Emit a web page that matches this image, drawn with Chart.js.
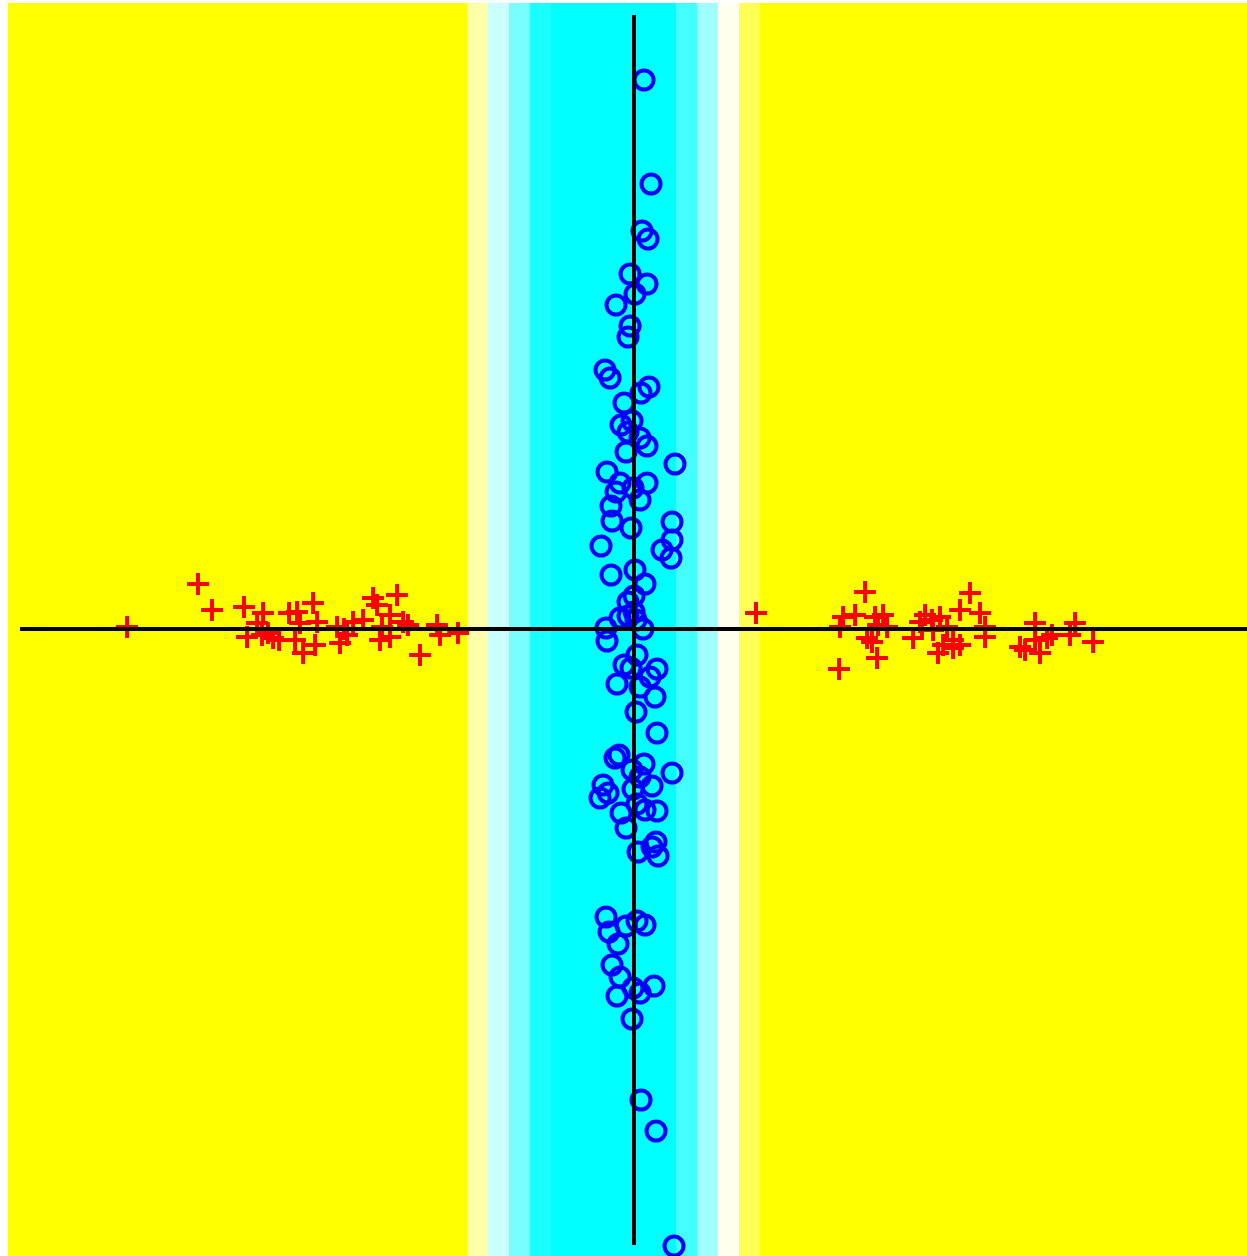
<!DOCTYPE html>
<html>
<head>
<meta charset="utf-8">
<script src="https://cdn.jsdelivr.net/npm/chart.js@4/dist/chart.umd.min.js"></script>
<style>
  html, body { margin: 0; padding: 0; background: #ffffff; overflow: hidden; }
  #wrap { width: 1279px; height: 1293px; position: absolute; left: -12px; top: -17px; }
</style>
</head>
<body>
<div id="wrap"><canvas id="myChart"></canvas></div>
<script>
// axis limits
const xLimits = [-6.26, 6.13];
const yLimits = [-6.27, 6.26];

// vertical colour bands of the background (x edges, colours)
const bandEdges = [-1.67, -1.46, -1.25, -1.04, -0.83, 0.42, 0.63, 0.84, 1.05, 1.26];
const bandColors = ['#ffffaa', '#ccffff', '#77ffff', '#1affff', '#00ffff', '#44ffff', '#a0ffff', '#ffffee', '#ffff55'];
const baseColor = '#ffff00';

// blue circles (class 1)
const circleX = [0.10, 0.17, 0.08, 0.14, -0.04, 0.13, 0.01, -0.18, -0.04, -0.06,
  -0.29, -0.24, 0.15, 0.07, -0.10, -0.02, -0.13, -0.06, 0.06, 0.13,
  -0.08, 0.41, -0.27, -0.14, 0.13, -0.18, -0.01, 0.06, -0.23, -0.22,
  -0.03, 0.38, 0.38, -0.33, 0.28, 0.37, -0.23, 0.01, 0.11, 0.00,
  -0.06, 0.00, -0.14, -0.06, 0.02, 0.09, -0.28, -0.27, 0.03, -0.10,
  -0.03, 0.23, 0.16, 0.06, -0.17, 0.21, 0.02, 0.23, -0.19, -0.15,
  0.10, 0.38, -0.02, 0.06, -0.31, 0.18, -0.26, -0.34, -0.01, 0.11,
  0.23, -0.13, 0.03, -0.08, 0.22, 0.18, 0.24, 0.04, -0.28, 0.03,
  0.11, -0.08, -0.25, -0.16, -0.22, -0.14, -0.01, 0.20, 0.06, -0.17,
  -0.02, 0.07, 0.22, 0.40];
const circleY = [5.49, 4.45, 3.98, 3.90, 3.55, 3.45, 3.35, 3.24, 3.03, 2.92,
  2.59, 2.51, 2.42, 2.36, 2.26, 2.08, 2.04, 1.97, 1.91, 1.83,
  1.77, 1.65, 1.57, 1.46, 1.46, 1.37, 1.41, 1.29, 1.23, 1.08,
  1.01, 1.07, 0.89, 0.83, 0.79, 0.71, 0.54, 0.59, 0.45, 0.33,
  0.27, 0.17, 0.11, 0.13, 0.09, 0.00, 0.01, -0.12, -0.26, -0.36,
  -0.39, -0.40, -0.48, -0.58, -0.55, -0.68, -0.83, -1.04, -1.29, -1.26,
  -1.35, -1.44, -1.41, -1.48, -1.56, -1.57, -1.64, -1.69, -1.60, -1.81,
  -1.82, -1.84, -1.75, -1.99, -2.13, -2.18, -2.27, -2.23, -2.88, -2.92,
  -2.96, -2.97, -3.03, -3.15, -3.36, -3.48, -3.59, -3.57, -3.64, -3.67,
  -3.90, -4.71, -5.02, -6.17];

// red crosses (class 2)
const crossX = [-5.07, -4.36, -4.22, -3.90, -3.87, -3.71, -3.77, -3.66, -3.61, -3.55,
  -3.39, -3.37, -3.34, -3.31, -3.21, -3.17, -3.19, -2.97, -2.94, -2.87,
  -2.81, -2.71, -2.61, -2.57, -2.52, -2.54, -2.44, -2.44, -2.37, -2.31,
  -2.26, -2.14, -1.97, -1.94, -1.76, -3.45, -2.90, -3.72,
  1.22, 2.05, 2.31, 2.09, 2.21, 2.06, 2.33, 2.43, 2.41, 2.49,
  2.44, 2.53, 2.38, 2.91, 2.86, 2.98, 3.06, 2.79, 2.88, 3.04,
  3.09, 3.19, 3.26, 3.26, 3.36, 3.46, 3.51, 3.51, 3.13, 2.99,
  3.86, 3.91, 4.01, 4.01, 4.06, 4.18, 4.36, 4.41, 4.59, 3.19, 4.13];
const crossY = [0.02, 0.45, 0.19, 0.22, -0.08, 0.16, 0.06, -0.04, -0.09, -0.11,
  -0.11, 0.17, 0.06, -0.24, 0.26, 0.07, -0.16, 0.02, -0.14, -0.06,
  0.07, 0.09, 0.31, 0.24, 0.02, -0.11, 0.14, -0.08, 0.34, 0.07,
  0.04, -0.26, 0.04, -0.06, -0.04, 0.16, 0.00, -0.06,
  0.16, -0.40, 0.37, 0.12, 0.14, 0.02, -0.09, -0.29, 0.12, 0.14,
  0.04, 0.02, -0.13, 0.14, 0.07, 0.09, 0.12, -0.09, 0.00, -0.24,
  -0.16, -0.11, -0.16, 0.19, 0.36, 0.16, 0.02, -0.08, 0.02, -0.01,
  -0.18, -0.21, 0.06, -0.11, -0.24, -0.06, -0.06, 0.06, -0.13, -0.19, -0.09];

// axis lines through the origin
const hLineX = [-6.14, 6.13];
const vLineY = [6.14, -6.16];

const toPoints = (xs, ys) => xs.map((x, i) => ({ x: x, y: ys[i] }));

// draws the yellow/cyan background through the chart's scales
const bandPlugin = {
    id: 'bands',
    beforeDatasetsDraw(chart) {
        const { ctx, chartArea, scales } = chart;
        ctx.save();
        ctx.fillStyle = baseColor;
        ctx.fillRect(chartArea.left, chartArea.top, chartArea.width, chartArea.height);
        for (let i = 0; i < bandColors.length; i++) {
            const x0 = Math.round(scales.x.getPixelForValue(bandEdges[i]));
            const x1 = Math.round(scales.x.getPixelForValue(bandEdges[i + 1]));
            ctx.fillStyle = bandColors[i];
            ctx.fillRect(x0, chartArea.top, x1 - x0, chartArea.height);
        }
        ctx.restore();
    }
};

const ctx = document.getElementById('myChart').getContext('2d');
new Chart(ctx, {
    type: 'scatter',
    data: {
        datasets: [
            {
                type: 'line',
                data: [{ x: hLineX[0], y: 0 }, { x: hLineX[1], y: 0 }],
                borderColor: '#000000',
                borderWidth: 4,
                pointRadius: 0,
                order: 0
            },
            {
                type: 'line',
                data: [{ x: 0, y: vLineY[0] }, { x: 0, y: vLineY[1] }],
                borderColor: '#000000',
                borderWidth: 4,
                pointRadius: 0,
                order: 0
            },
            {
                data: toPoints(circleX, circleY),
                pointStyle: 'circle',
                pointRadius: 9.5,
                borderWidth: 4,
                borderColor: '#0000ff',
                backgroundColor: 'rgba(0,0,0,0)',
                order: 1
            },
            {
                data: toPoints(crossX, crossY),
                pointStyle: 'cross',
                pointRadius: 11,
                borderWidth: 4,
                borderColor: '#ff0000',
                backgroundColor: '#ff0000',
                order: 1
            }
        ]
    },
    options: {
        responsive: true,
        maintainAspectRatio: false,
        animation: false,
        layout: { padding: 20 },
        plugins: { legend: { display: false }, tooltip: { enabled: false } },
        scales: {
            x: { type: 'linear', min: xLimits[0], max: xLimits[1], display: false },
            y: { type: 'linear', min: yLimits[0], max: yLimits[1], display: false }
        }
    },
    plugins: [bandPlugin]
});
</script>
</body>
</html>
